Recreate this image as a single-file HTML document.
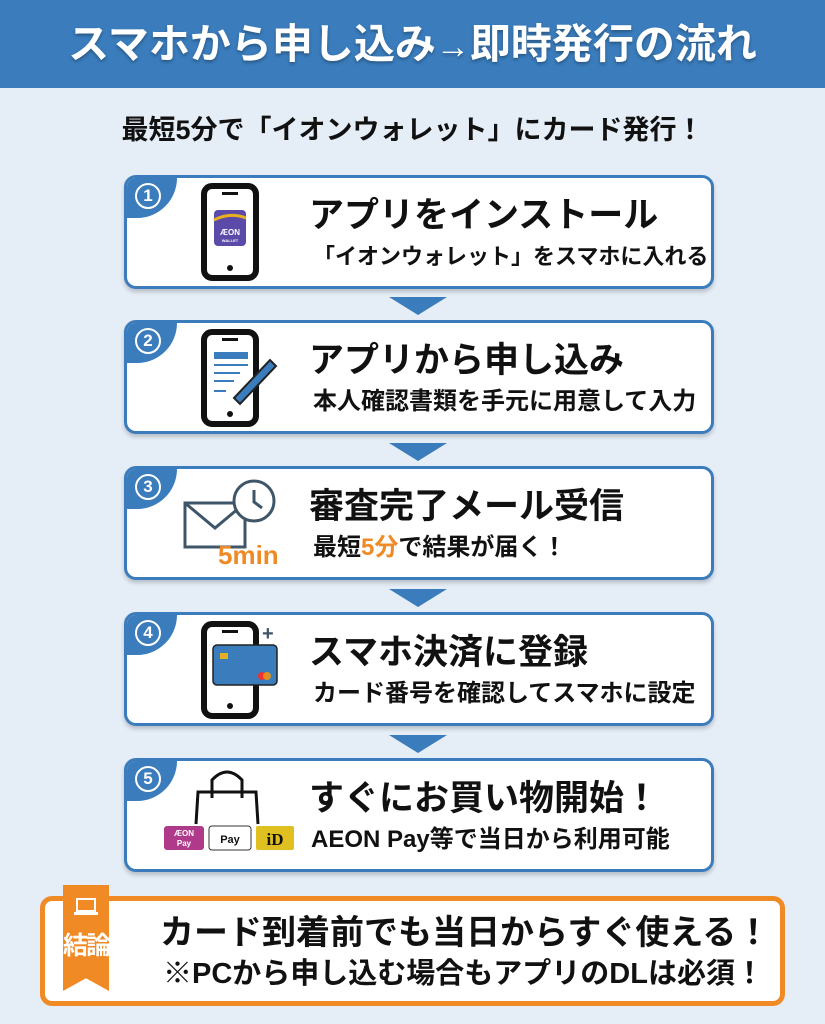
<!DOCTYPE html>
<html><head><meta charset="utf-8"><style>
*{margin:0;padding:0;box-sizing:border-box}
body{width:825px;height:1024px;background:#e5edf7;font-family:"Liberation Sans","Noto Sans CJK JP",sans-serif;position:relative;overflow:hidden;font-weight:bold;color:#111}
.hdr{position:absolute;left:0;top:0;width:825px;height:88px;background:#3a7cbc;color:#fff;font-size:41px;text-align:center;line-height:88px;white-space:nowrap;text-shadow:0 2px 3px rgba(0,0,0,.3)}
.sub{position:absolute;left:0;top:110px;width:825px;text-align:center;font-size:27px;line-height:40px}
.card{position:absolute;left:124px;width:590px;height:114px;background:#fff;border:3px solid #3a7cbc;border-radius:12px;box-shadow:0 3px 4px rgba(0,0,0,.2);overflow:hidden}
.badge{position:absolute;left:-20px;top:-20px;width:70px;height:60px;background:#3a7cbc;border-radius:0 0 40px 0}
.num{position:absolute;left:8px;top:5px;width:26px;height:26px;border:2.5px solid #fff;border-radius:50%;color:#fff;font-size:17px;text-align:center;line-height:21px}
.t{position:absolute;left:182px;top:16px;font-size:35px;line-height:44px;white-space:nowrap}
.s{position:absolute;left:186px;top:63px;font-size:24px;line-height:32px;white-space:nowrap}
.arr{position:absolute;left:389px;width:0;height:0;border-left:29px solid transparent;border-right:29px solid transparent;border-top:18px solid #3a7cbc}
.icon{position:absolute}
.bot{position:absolute;left:40px;top:896px;width:745px;height:110px;background:#fff;border:5px solid #f08a24;border-radius:12px}
.rib{position:absolute;left:63px;top:885px;width:46px;height:106px;background:#f08a24;clip-path:polygon(0 0,100% 0,100% 100%,50% 88%,0 100%);}
</style></head><body>
<div class="hdr">スマホから申し込み<span style="font-size:34px">→</span>即時発行の流れ</div>
<div class="sub">最短5分で「イオンウォレット」にカード発行！</div>

<div class="card" style="top:175px"><div class="badge"></div><div class="num">1</div>
<div class="t">アプリをインストール</div><div class="s" style="font-size:22px">「イオンウォレット」をスマホに入れる</div></div>
<div class="arr" style="top:297px"></div>
<div class="card" style="top:320px"><div class="badge"></div><div class="num">2</div>
<div class="t">アプリから申し込み</div><div class="s">本人確認書類を手元に用意して入力</div></div>
<div class="arr" style="top:443px"></div>
<div class="card" style="top:466px"><div class="badge"></div><div class="num">3</div>
<div class="t">審査完了メール受信</div><div class="s">最短<span style="color:#f08a24">5分</span>で結果が届く！</div></div>
<div class="arr" style="top:589px"></div>
<div class="card" style="top:612px"><div class="badge"></div><div class="num">4</div>
<div class="t">スマホ決済に登録</div><div class="s">カード番号を確認してスマホに設定</div></div>
<div class="arr" style="top:735px"></div>
<div class="card" style="top:758px"><div class="badge"></div><div class="num">5</div>
<div class="t">すぐにお買い物開始！</div><div class="s" style="left:184px">AEON Pay等で当日から利用可能</div></div>

<svg class="icon" style="left:200px;top:182px" width="60" height="100">
<rect x="4" y="4" width="52" height="92" rx="8" fill="#fff" stroke="#111" stroke-width="6"/>
<rect x="22" y="10" width="16" height="3" fill="#111"/><circle cx="30" cy="86" r="3" fill="#111"/>
<rect x="14" y="28" width="32" height="36" rx="4" fill="#5b4aa8"/><path d="M14 38 Q30 30 46 36" stroke="#e8b020" stroke-width="3" fill="none"/>
<text x="30" y="53" fill="#fff" font-size="8" text-anchor="middle">ÆON</text><text x="30" y="60" fill="#fff" font-size="4" text-anchor="middle">WALLET</text></svg>
<svg class="icon" style="left:200px;top:328px" width="80" height="100">
<rect x="4" y="4" width="52" height="92" rx="8" fill="#fff" stroke="#111" stroke-width="6"/>
<rect x="22" y="10" width="16" height="3" fill="#111"/><circle cx="30" cy="86" r="3" fill="#111"/>
<rect x="14" y="24" width="34" height="7" fill="#3a7cbc"/><rect x="14" y="36" width="34" height="2" fill="#3a7cbc"/>
<rect x="14" y="44" width="26" height="2" fill="#3a7cbc"/><rect x="14" y="52" width="20" height="2" fill="#3a7cbc"/><rect x="14" y="62" width="12" height="2" fill="#3a7cbc"/>
<path d="M34 70 L70 32 L76 38 L40 76 Z" fill="#3a7cbc" stroke="#222" stroke-width="2"/></svg>
<svg class="icon" style="left:182px;top:478px" width="110" height="92">
<rect x="3" y="25" width="60" height="44" fill="none" stroke="#3f5568" stroke-width="3"/>
<path d="M3 25 L33 50 L63 25" fill="none" stroke="#3f5568" stroke-width="3"/>
<circle cx="72" cy="23" r="20" fill="#fff" stroke="#3f5568" stroke-width="3"/><path d="M72 12 V24 L80 30" stroke="#3f5568" stroke-width="3" fill="none"/>
<text x="36" y="86" font-size="26" fill="#f08a24" font-weight="bold" font-family="Liberation Sans">5min</text></svg>
<svg class="icon" style="left:200px;top:620px" width="85" height="100">
<rect x="4" y="4" width="52" height="92" rx="8" fill="#fff" stroke="#111" stroke-width="6"/>
<circle cx="30" cy="86" r="3" fill="#111"/><rect x="22" y="10" width="16" height="3" fill="#111"/>
<text x="62" y="20" font-size="20" fill="#3f5568">+</text>
<rect x="13" y="25" width="64" height="40" rx="4" fill="#3a7cbc" stroke="#222" stroke-width="1.5"/>
<rect x="20" y="33" width="8" height="6" fill="#e8b020"/><circle cx="62" cy="56" r="4" fill="#e33"/><circle cx="67" cy="56" r="4" fill="#f90" opacity=".8"/></svg>
<svg class="icon" style="left:160px;top:768px" width="145" height="90">
<path d="M36 56 L38 24 L96 24 L98 56" fill="none" stroke="#111" stroke-width="3"/>
<path d="M52 30 V12 Q67 -4 82 12 V30" fill="none" stroke="#111" stroke-width="3"/>
<rect x="4" y="58" width="40" height="24" rx="3" fill="#b03a8a"/><text x="24" y="68" font-size="8" fill="#fff" text-anchor="middle">ÆON</text><text x="24" y="78" font-size="8" fill="#fff" text-anchor="middle">Pay</text>
<rect x="49" y="58" width="42" height="24" rx="3" fill="#fff" stroke="#333"/><text x="70" y="75" font-size="11" fill="#111" text-anchor="middle">Pay</text>
<rect x="96" y="58" width="38" height="24" rx="2" fill="#e0c020"/><text x="115" y="77" font-size="17" fill="#111" text-anchor="middle" font-family="Liberation Serif">iD</text></svg>

<div class="bot">
<div style="position:absolute;left:115px;top:10px;font-size:34px;line-height:44px;white-space:nowrap">カード到着前でも当日からすぐ使える！</div>
<div style="position:absolute;left:118px;top:54px;font-size:29px;line-height:38px;white-space:nowrap">※PCから申し込む場合もアプリのDLは必須！</div>
</div>
<div class="rib"></div>
<svg class="icon" style="left:73px;top:896px" width="26" height="22"><rect x="4" y="3" width="18" height="12" fill="none" stroke="#fff" stroke-width="2"/><rect x="1" y="16" width="24" height="3" fill="#fff"/></svg>
<div style="position:absolute;left:61px;top:926px;width:50px;text-align:center;color:#fff;font-size:25px;line-height:40px;font-weight:bold;letter-spacing:-2px">結論</div>
</body></html>
